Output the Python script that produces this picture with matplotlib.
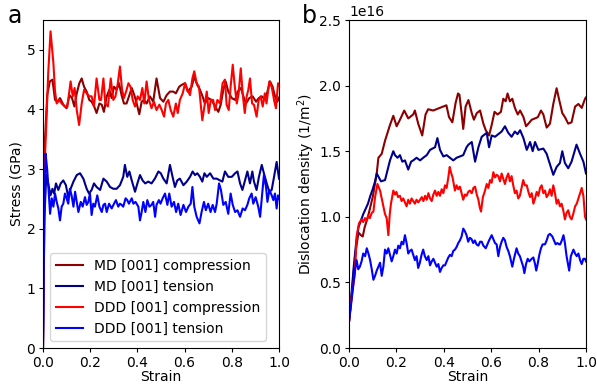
import matplotlib
matplotlib.use("Agg")
import numpy as np
from matplotlib import pyplot as plt

labels = ["MD [001] compression", "MD [001] tension",
          "DDD [001] compression", "DDD [001] tension"]
colors = ["darkred", "darkblue", "red", "blue"]

# ---- panel a: stress (GPa) vs strain ----
md_comp_strain = [0, 0.006, 0.018, 0.029, 0.040, 0.051, 0.061, 0.072, 0.086, 0.100,
                  0.112, 0.123, 0.133, 0.143, 0.154, 0.164, 0.174, 0.185, 0.196, 0.206,
                  0.217, 0.227, 0.239, 0.249, 0.258, 0.270, 0.281, 0.291, 0.301, 0.312,
                  0.322, 0.333, 0.343, 0.354, 0.366, 0.376, 0.387, 0.397, 0.408, 0.418,
                  0.428, 0.439, 0.453, 0.467, 0.481, 0.496, 0.510, 0.524, 0.538, 0.552,
                  0.563, 0.577, 0.587, 0.602, 0.613, 0.630, 0.641, 0.654, 0.665, 0.676,
                  0.686, 0.700, 0.714, 0.729, 0.743, 0.753, 0.764, 0.774, 0.785, 0.800,
                  0.814, 0.825, 0.839, 0.849, 0.860, 0.874, 0.888, 0.903, 0.914, 0.927,
                  0.941, 0.951, 0.962, 0.973, 0.983, 0.993, 1.000]
md_comp_stress = [0, 3.3, 4.25, 4.47, 4.50, 4.16, 4.13, 4.19, 4.08, 4.02,
                  4.24, 4.19, 4.05, 4.27, 4.44, 4.52, 4.38, 4.30, 4.16, 4.13,
                  4.05, 3.94, 4.10, 4.08, 3.96, 4.22, 4.33, 4.19, 4.38, 4.33,
                  4.44, 4.24, 4.10, 4.10, 4.24, 4.36, 4.24, 4.10, 3.92, 4.13,
                  4.16, 4.10, 4.22, 4.13, 4.52, 4.19, 4.13, 4.24, 4.30, 4.30,
                  4.27, 4.38, 4.41, 4.44, 4.30, 4.38, 4.55, 4.41, 4.33, 4.22,
                  4.10, 4.19, 4.16, 4.05, 3.96, 4.08, 4.33, 4.47, 4.30, 4.19,
                  4.16, 4.30, 4.36, 4.22, 4.10, 4.19, 4.22, 4.13, 4.19, 4.22,
                  4.16, 4.30, 4.47, 4.38, 4.22, 4.13, 4.20]

md_tens_strain = [0, 0.006, 0.014, 0.022, 0.032, 0.040, 0.047, 0.055, 0.065, 0.075,
                  0.086, 0.097, 0.107, 0.117, 0.129, 0.143, 0.157, 0.171, 0.185, 0.195,
                  0.206, 0.216, 0.227, 0.242, 0.256, 0.270, 0.284, 0.298, 0.312, 0.326,
                  0.340, 0.347, 0.357, 0.366, 0.376, 0.390, 0.400, 0.411, 0.422, 0.433,
                  0.446, 0.460, 0.474, 0.489, 0.499, 0.510, 0.524, 0.538, 0.549, 0.559,
                  0.569, 0.580, 0.595, 0.609, 0.623, 0.634, 0.644, 0.654, 0.665, 0.675,
                  0.684, 0.694, 0.708, 0.722, 0.736, 0.750, 0.760, 0.771, 0.785, 0.800,
                  0.814, 0.824, 0.835, 0.845, 0.856, 0.866, 0.877, 0.887, 0.894, 0.905,
                  0.915, 0.927, 0.936, 0.948, 0.959, 0.969, 0.979, 0.990, 1.000]
md_tens_stress = [0, 2.2, 2.9, 2.76, 2.56, 2.67, 2.59, 2.76, 2.65, 2.76,
                  2.81, 2.73, 2.53, 2.67, 2.79, 2.90, 2.93, 2.84, 2.67, 2.59,
                  2.65, 2.76, 2.70, 2.65, 2.84, 2.79, 2.70, 2.67, 2.67, 2.73,
                  2.87, 3.07, 2.87, 2.96, 2.81, 2.62, 2.76, 2.90, 2.81, 2.76,
                  2.79, 2.76, 2.84, 2.96, 2.93, 2.84, 2.76, 3.07, 2.87, 2.70,
                  2.81, 2.84, 2.73, 2.79, 2.87, 2.96, 2.90, 2.93, 2.87, 2.79,
                  2.93, 2.87, 2.93, 2.84, 2.84, 2.81, 2.79, 2.96, 2.87, 2.87,
                  2.93, 2.96, 2.76, 2.65, 2.81, 2.96, 2.76, 2.96, 2.79, 2.65,
                  2.87, 3.07, 2.93, 2.76, 2.62, 2.65, 2.87, 3.12, 2.84]

ddd_comp_strain = [0, 0.006, 0.013, 0.022, 0.032, 0.044, 0.051, 0.058, 0.069, 0.079,
                   0.093, 0.103, 0.117, 0.126, 0.134, 0.143, 0.153, 0.164, 0.174, 0.185,
                   0.196, 0.206, 0.216, 0.227, 0.239, 0.246, 0.256, 0.264, 0.275, 0.287,
                   0.298, 0.307, 0.316, 0.326, 0.335, 0.343, 0.352, 0.362, 0.371, 0.380,
                   0.390, 0.401, 0.411, 0.421, 0.429, 0.439, 0.449, 0.460, 0.470, 0.481,
                   0.493, 0.503, 0.513, 0.521, 0.531, 0.541, 0.552, 0.563, 0.571, 0.580,
                   0.592, 0.602, 0.612, 0.623, 0.633, 0.641, 0.651, 0.661, 0.668, 0.675,
                   0.684, 0.694, 0.702, 0.711, 0.721, 0.729, 0.739, 0.750, 0.761, 0.771,
                   0.778, 0.787, 0.795, 0.804, 0.812, 0.821, 0.829, 0.838, 0.846, 0.855,
                   0.863, 0.870, 0.877, 0.886, 0.894, 0.905, 0.914, 0.922, 0.931, 0.940,
                   0.947, 0.959, 0.969, 0.979, 0.987, 0.996, 1.000]
ddd_comp_stress = [0, 3.0, 3.65, 4.6, 5.31, 4.78, 4.30, 4.10, 4.16, 4.10,
                   4.05, 4.04, 4.47, 4.22, 4.36, 3.99, 3.74, 4.10, 4.33, 4.27,
                   4.22, 4.22, 4.05, 4.52, 4.16, 4.16, 4.52, 4.10, 4.05, 4.52,
                   4.16, 4.22, 4.41, 4.72, 4.33, 4.19, 4.30, 4.44, 4.38, 4.16,
                   4.05, 4.22, 4.16, 4.36, 4.10, 4.47, 4.16, 4.02, 4.13, 3.99,
                   4.08, 3.99, 3.88, 4.10, 4.16, 3.99, 3.88, 4.10, 3.94, 4.16,
                   4.27, 4.44, 4.33, 4.24, 4.52, 4.64, 4.44, 4.38, 4.10, 3.82,
                   4.05, 4.30, 3.94, 4.16, 4.16, 3.99, 4.16, 4.10, 4.44, 4.50,
                   4.08, 3.99, 4.38, 4.75, 4.41, 4.10, 4.27, 4.69, 4.27, 3.94,
                   4.22, 4.33, 4.52, 4.10, 4.08, 3.88, 4.16, 4.22, 4.05, 4.27,
                   4.10, 4.47, 4.38, 4.16, 4.02, 4.44, 4.40]

ddd_tens_strain = [0, 0.005, 0.011, 0.018, 0.025, 0.030, 0.037, 0.044, 0.051, 0.058,
                   0.065, 0.072, 0.079, 0.086, 0.093, 0.100, 0.107, 0.114, 0.121, 0.129,
                   0.136, 0.143, 0.150, 0.160, 0.168, 0.178, 0.185, 0.192, 0.199, 0.206,
                   0.213, 0.220, 0.230, 0.239, 0.249, 0.256, 0.263, 0.270, 0.280, 0.291,
                   0.301, 0.309, 0.319, 0.326, 0.333, 0.340, 0.350, 0.357, 0.364, 0.376,
                   0.383, 0.392, 0.404, 0.411, 0.418, 0.425, 0.434, 0.442, 0.451, 0.460,
                   0.467, 0.475, 0.481, 0.491, 0.498, 0.507, 0.517, 0.527, 0.535, 0.545,
                   0.555, 0.564, 0.573, 0.583, 0.595, 0.606, 0.616, 0.626, 0.633, 0.641,
                   0.651, 0.663, 0.672, 0.682, 0.690, 0.700, 0.710, 0.719, 0.729, 0.736,
                   0.746, 0.754, 0.764, 0.774, 0.785, 0.795, 0.804, 0.814, 0.824, 0.835,
                   0.846, 0.856, 0.866, 0.874, 0.884, 0.891, 0.901, 0.912, 0.920, 0.927,
                   0.936, 0.945, 0.951, 0.959, 0.969, 0.976, 0.983, 0.990, 0.996, 1.000]
ddd_tens_stress = [0, 2.0, 3.26, 2.98, 2.56, 2.25, 2.51, 2.37, 2.59, 2.45,
                   2.34, 2.14, 2.37, 2.42, 2.59, 2.51, 2.42, 2.67, 2.56, 2.37,
                   2.62, 2.45, 2.28, 2.45, 2.37, 2.53, 2.40, 2.45, 2.59, 2.23,
                   2.42, 2.37, 2.56, 2.37, 2.28, 2.40, 2.42, 2.28, 2.42, 2.34,
                   2.42, 2.48, 2.37, 2.42, 2.40, 2.37, 2.51, 2.48, 2.42, 2.51,
                   2.42, 2.45, 2.37, 2.14, 2.28, 2.45, 2.28, 2.48, 2.37, 2.40,
                   2.45, 2.20, 2.40, 2.48, 2.42, 2.51, 2.59, 2.40, 2.59, 2.37,
                   2.45, 2.28, 2.42, 2.23, 2.40, 2.28, 2.37, 2.42, 2.70, 2.37,
                   2.20, 2.09, 2.28, 2.45, 2.31, 2.42, 2.28, 2.40, 2.28, 2.42,
                   2.76, 2.65, 2.40, 2.45, 2.25, 2.59, 2.40, 2.28, 2.31, 2.20,
                   2.34, 2.31, 2.40, 2.51, 2.59, 2.42, 2.53, 2.37, 2.20, 2.51,
                   2.90, 2.70, 2.45, 2.65, 2.56, 2.48, 2.59, 2.34, 2.56, 2.50]

# ---- panel b: dislocation density, in units of 1e16 m^-2 ----
md_comp_rho_strain = [0, 0.010, 0.020, 0.030, 0.040, 0.050, 0.058, 0.066, 0.080, 0.100,
                      0.117, 0.124, 0.138, 0.152, 0.173, 0.187, 0.201, 0.215, 0.233, 0.250,
                      0.271, 0.278, 0.292, 0.309, 0.323, 0.334, 0.355, 0.383, 0.397, 0.411,
                      0.422, 0.436, 0.450, 0.460, 0.466, 0.475, 0.482, 0.492, 0.504, 0.518,
                      0.527, 0.539, 0.553, 0.567, 0.577, 0.591, 0.602, 0.614, 0.627, 0.641,
                      0.651, 0.661, 0.669, 0.679, 0.689, 0.700, 0.712, 0.722, 0.736, 0.747,
                      0.757, 0.771, 0.785, 0.797, 0.810, 0.820, 0.834, 0.848, 0.862, 0.876,
                      0.887, 0.900, 0.911, 0.925, 0.939, 0.954, 0.968, 0.982, 0.996, 1.000]
md_comp_rho = [0.20, 0.38, 0.58, 0.76, 0.88, 0.86, 0.85, 0.92, 1.00, 1.15,
               1.33, 1.45, 1.48, 1.58, 1.70, 1.77, 1.69, 1.74, 1.81, 1.75,
               1.78, 1.81, 1.71, 1.62, 1.78, 1.82, 1.81, 1.83, 1.84, 1.85,
               1.76, 1.72, 1.87, 1.94, 1.93, 1.79, 1.67, 1.84, 1.89, 1.79,
               1.74, 1.79, 1.81, 1.71, 1.66, 1.62, 1.70, 1.80, 1.78, 1.80,
               1.90, 1.88, 1.94, 1.88, 1.90, 1.83, 1.78, 1.81, 1.76, 1.69,
               1.71, 1.74, 1.75, 1.76, 1.81, 1.78, 1.68, 1.71, 1.86, 1.98,
               1.89, 1.79, 1.76, 1.71, 1.72, 1.84, 1.86, 1.83, 1.90, 1.91]

md_tens_rho_strain = [0, 0.010, 0.020, 0.030, 0.040, 0.050, 0.060, 0.070, 0.080, 0.090,
                      0.100, 0.110, 0.117, 0.135, 0.152, 0.173, 0.187, 0.194, 0.205, 0.215,
                      0.225, 0.236, 0.250, 0.262, 0.271, 0.285, 0.300, 0.313, 0.328, 0.342,
                      0.352, 0.363, 0.373, 0.384, 0.398, 0.412, 0.426, 0.440, 0.454, 0.468,
                      0.482, 0.496, 0.504, 0.518, 0.532, 0.546, 0.560, 0.581, 0.591, 0.602,
                      0.616, 0.630, 0.644, 0.658, 0.672, 0.686, 0.700, 0.711, 0.722, 0.736,
                      0.750, 0.764, 0.775, 0.785, 0.799, 0.820, 0.834, 0.848, 0.862, 0.876,
                      0.890, 0.900, 0.911, 0.925, 0.939, 0.960, 0.975, 0.989, 1.000]
md_tens_rho = [0.20, 0.40, 0.62, 0.80, 0.92, 0.97, 1.02, 1.06, 1.10, 1.16,
               1.21, 1.27, 1.33, 1.27, 1.28, 1.43, 1.50, 1.47, 1.45, 1.47,
               1.42, 1.43, 1.36, 1.42, 1.43, 1.45, 1.43, 1.45, 1.47, 1.51,
               1.52, 1.53, 1.60, 1.51, 1.46, 1.47, 1.45, 1.43, 1.45, 1.46,
               1.47, 1.53, 1.55, 1.57, 1.42, 1.53, 1.61, 1.64, 1.53, 1.62,
               1.61, 1.63, 1.65, 1.69, 1.64, 1.61, 1.65, 1.63, 1.66, 1.60,
               1.51, 1.57, 1.50, 1.57, 1.51, 1.52, 1.48, 1.40, 1.32, 1.38,
               1.41, 1.50, 1.41, 1.37, 1.42, 1.55, 1.48, 1.42, 1.33]

ddd_comp_rho_strain = [0, 0.011, 0.025, 0.032, 0.042, 0.053, 0.060, 0.067, 0.074, 0.081,
                       0.088, 0.096, 0.103, 0.110, 0.120, 0.131, 0.138, 0.145, 0.152, 0.159,
                       0.166, 0.172, 0.177, 0.187, 0.194, 0.200, 0.207, 0.215, 0.222, 0.229,
                       0.236, 0.243, 0.250, 0.257, 0.264, 0.271, 0.278, 0.285, 0.292, 0.300,
                       0.307, 0.314, 0.321, 0.328, 0.335, 0.342, 0.349, 0.356, 0.363, 0.370,
                       0.377, 0.384, 0.391, 0.398, 0.405, 0.412, 0.419, 0.425, 0.430, 0.437,
                       0.447, 0.454, 0.461, 0.468, 0.475, 0.482, 0.489, 0.496, 0.503, 0.510,
                       0.518, 0.525, 0.532, 0.539, 0.546, 0.552, 0.557, 0.565, 0.574, 0.581,
                       0.588, 0.595, 0.602, 0.609, 0.616, 0.623, 0.630, 0.637, 0.644, 0.651,
                       0.658, 0.665, 0.672, 0.679, 0.686, 0.693, 0.700, 0.707, 0.714, 0.721,
                       0.728, 0.735, 0.742, 0.750, 0.757, 0.764, 0.771, 0.778, 0.785, 0.792,
                       0.799, 0.806, 0.813, 0.820, 0.827, 0.834, 0.841, 0.848, 0.855, 0.862,
                       0.869, 0.876, 0.883, 0.890, 0.897, 0.904, 0.911, 0.918, 0.925, 0.932,
                       0.939, 0.946, 0.954, 0.961, 0.968, 0.975, 0.982, 0.989, 0.996, 1.000]
ddd_comp_rho = [0.20, 0.39, 0.57, 0.85, 0.95, 0.98, 0.96, 0.99, 0.97, 1.01,
                0.99, 1.03, 1.04, 1.15, 1.25, 1.20, 1.14, 1.08, 1.02, 0.99,
                0.86, 1.02, 1.10, 1.20, 1.17, 1.19, 1.15, 1.16, 1.12, 1.14,
                1.11, 1.08, 1.13, 1.10, 1.14, 1.12, 1.10, 1.13, 1.11, 1.13,
                1.15, 1.12, 1.16, 1.13, 1.18, 1.14, 1.12, 1.17, 1.20, 1.16,
                1.19, 1.16, 1.21, 1.18, 1.24, 1.22, 1.30, 1.38, 1.34, 1.30,
                1.20, 1.24, 1.21, 1.23, 1.18, 1.13, 1.17, 1.16, 1.19, 1.20,
                1.18, 1.22, 1.23, 1.17, 1.13, 1.07, 1.04, 1.15, 1.20, 1.25,
                1.22, 1.28, 1.26, 1.34, 1.30, 1.32, 1.31, 1.27, 1.33, 1.29,
                1.25, 1.30, 1.33, 1.27, 1.31, 1.24, 1.18, 1.20, 1.14, 1.16,
                1.22, 1.28, 1.24, 1.24, 1.19, 1.15, 1.18, 1.10, 1.14, 1.19,
                1.16, 1.22, 1.24, 1.18, 1.20, 1.15, 1.17, 1.21, 1.16, 1.24,
                1.18, 1.10, 1.13, 1.08, 1.10, 1.05, 0.98, 1.03, 1.05, 1.00,
                0.98, 1.02, 1.08, 1.10, 1.14, 1.18, 1.22, 1.16, 1.00, 0.98]

ddd_tens_rho_strain = [0, 0.010, 0.018, 0.025, 0.032, 0.039, 0.046, 0.053, 0.060, 0.068,
                       0.075, 0.082, 0.089, 0.096, 0.103, 0.110, 0.117, 0.124, 0.131, 0.138,
                       0.145, 0.152, 0.159, 0.166, 0.173, 0.180, 0.187, 0.194, 0.201, 0.208,
                       0.215, 0.222, 0.229, 0.236, 0.243, 0.250, 0.257, 0.264, 0.271, 0.278,
                       0.285, 0.292, 0.299, 0.306, 0.313, 0.320, 0.328, 0.335, 0.342, 0.349,
                       0.356, 0.363, 0.370, 0.377, 0.384, 0.391, 0.398, 0.405, 0.412, 0.419,
                       0.426, 0.433, 0.440, 0.447, 0.454, 0.461, 0.468, 0.475, 0.482, 0.489,
                       0.496, 0.503, 0.510, 0.517, 0.524, 0.531, 0.538, 0.546, 0.553, 0.560,
                       0.567, 0.577, 0.584, 0.591, 0.602, 0.609, 0.616, 0.623, 0.630, 0.637,
                       0.644, 0.651, 0.658, 0.665, 0.672, 0.679, 0.689, 0.696, 0.707, 0.714,
                       0.721, 0.728, 0.735, 0.740, 0.747, 0.754, 0.761, 0.771, 0.778, 0.785,
                       0.790, 0.796, 0.803, 0.810, 0.817, 0.827, 0.834, 0.841, 0.848, 0.858,
                       0.865, 0.872, 0.879, 0.886, 0.891, 0.898, 0.905, 0.911, 0.918, 0.929,
                       0.936, 0.947, 0.954, 0.961, 0.968, 0.975, 0.982, 0.989, 0.996, 1.000]
ddd_tens_rho = [0.20, 0.35, 0.48, 0.59, 0.67, 0.60, 0.62, 0.66, 0.72, 0.70,
                0.76, 0.72, 0.67, 0.60, 0.52, 0.55, 0.59, 0.62, 0.65, 0.55,
                0.62, 0.75, 0.72, 0.76, 0.71, 0.66, 0.70, 0.75, 0.72, 0.78,
                0.76, 0.81, 0.79, 0.86, 0.80, 0.72, 0.74, 0.75, 0.71, 0.67,
                0.70, 0.61, 0.65, 0.71, 0.75, 0.70, 0.67, 0.70, 0.63, 0.66,
                0.68, 0.65, 0.62, 0.64, 0.58, 0.61, 0.63, 0.63, 0.66, 0.69,
                0.71, 0.70, 0.74, 0.75, 0.77, 0.80, 0.82, 0.85, 0.91, 0.89,
                0.86, 0.81, 0.84, 0.83, 0.80, 0.82, 0.79, 0.78, 0.81, 0.81,
                0.78, 0.76, 0.79, 0.82, 0.86, 0.83, 0.80, 0.79, 0.70, 0.77,
                0.81, 0.84, 0.82, 0.77, 0.74, 0.70, 0.62, 0.68, 0.76, 0.72,
                0.70, 0.66, 0.62, 0.57, 0.64, 0.68, 0.66, 0.68, 0.69, 0.64,
                0.59, 0.64, 0.71, 0.76, 0.79, 0.79, 0.82, 0.86, 0.87, 0.85,
                0.82, 0.79, 0.80, 0.79, 0.79, 0.82, 0.86, 0.80, 0.70, 0.59,
                0.70, 0.75, 0.72, 0.70, 0.72, 0.67, 0.64, 0.68, 0.68, 0.66]

stress_series = [(md_comp_strain, md_comp_stress), (md_tens_strain, md_tens_stress),
                 (ddd_comp_strain, ddd_comp_stress), (ddd_tens_strain, ddd_tens_stress)]
rho_series = [(md_comp_rho_strain, md_comp_rho), (md_tens_rho_strain, md_tens_rho),
              (ddd_comp_rho_strain, ddd_comp_rho), (ddd_tens_rho_strain, ddd_tens_rho)]

fig = plt.figure(figsize=(5.97, 3.85), dpi=100)
ax1 = fig.add_axes([43 / 597, 1 - 348 / 385, 236 / 597, 328 / 385])
ax2 = fig.add_axes([349 / 597, 1 - 348 / 385, 237 / 597, 328 / 385])

for (x, y), c, lab in zip(stress_series, colors, labels):
    ax1.plot(x, y, color=c, lw=1.5, label=lab)
ax1.set_xlim(0, 1)
ax1.set_ylim(0, 5.5)
ax1.set_xlabel("Strain", labelpad=0)
ax1.set_ylabel("Stress (GPa)", labelpad=2)
ax1.legend(loc="lower left", fontsize=10)

for (x, y), c, lab in zip(rho_series, colors, labels):
    ax2.plot(x, np.array(y) * 1e16, color=c, lw=1.5, label=lab)
ax2.set_xlim(0, 1)
ax2.set_ylim(0, 2.5e16)
ax2.set_xlabel("Strain", labelpad=0)
ax2.set_ylabel("Dislocation density (1/m$^2$)", labelpad=2)

for ax in (ax1, ax2):
    ax.tick_params(length=3, pad=2.5)

fig.text(8 / 597, 1 - 4 / 385, "a", fontsize=17, va="top", ha="left")
fig.text(302 / 597, 1 - 4 / 385, "b", fontsize=17, va="top", ha="left")

fig.savefig("out.png", dpi=100)
